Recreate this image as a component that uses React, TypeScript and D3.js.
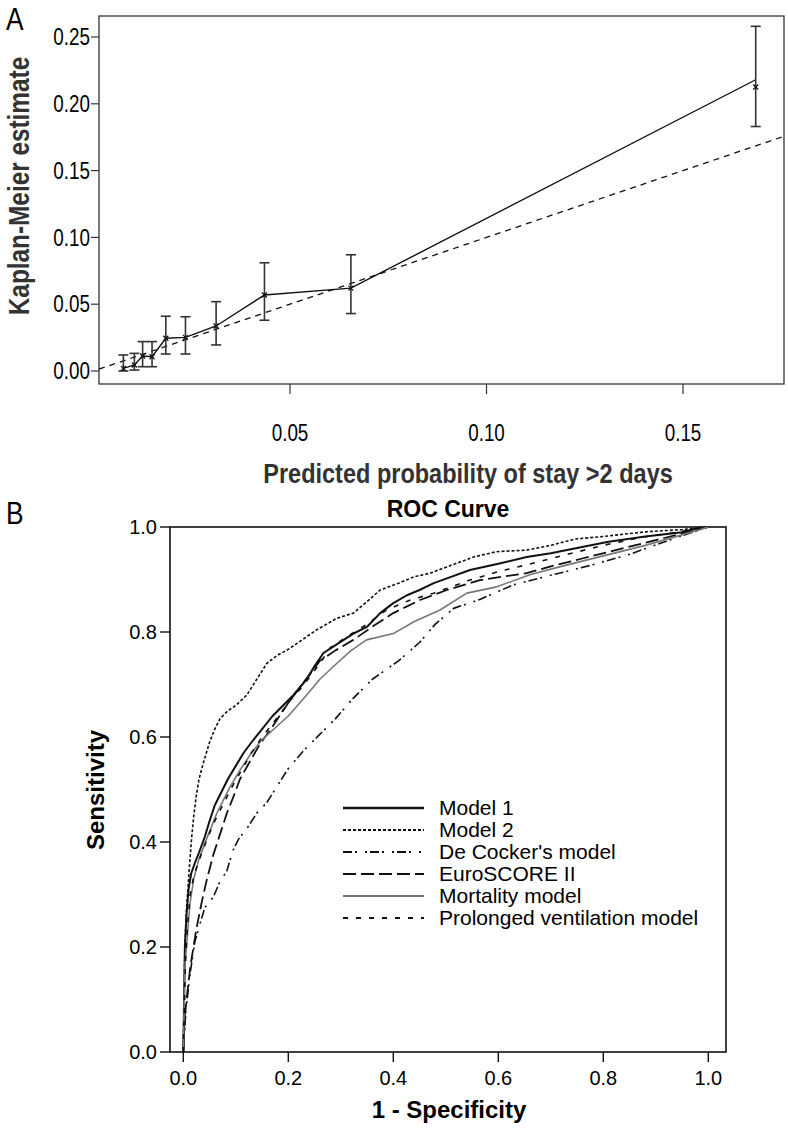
import { useMemo } from "react"
import * as d3 from "d3"

// ---- panel A: calibration ----
const predicted = [0.0076, 0.0104, 0.0125, 0.0149, 0.0184, 0.0234, 0.0312, 0.0435, 0.0655, 0.1685]
const kmEstimate = [0.002, 0.0045, 0.0112, 0.0107, 0.0245, 0.0252, 0.0337, 0.0569, 0.062, 0.218]
const kmMark = [0.002, 0.0045, 0.0112, 0.0107, 0.0245, 0.0252, 0.0337, 0.0569, 0.062, 0.2126]
const kmLower = [0.0, 0.0007, 0.0032, 0.0032, 0.0127, 0.0127, 0.0195, 0.038, 0.043, 0.183]
const kmUpper = [0.012, 0.0132, 0.022, 0.022, 0.041, 0.0406, 0.0519, 0.081, 0.087, 0.258]
const xTicksA = [0.05, 0.1, 0.15]
const yTicksA = [0, 0.05, 0.1, 0.15, 0.2, 0.25]

// ---- panel B: ROC curves [fpr, tpr] ----
const model1 = [[0,0],[0.003,0.2],[0.006,0.26],[0.01,0.31],[0.015,0.34],[0.022,0.36],[0.03,0.38],[0.041,0.41],[0.05,0.44],[0.06,0.47],[0.07,0.49],[0.085,0.52],[0.1,0.545],[0.115,0.57],[0.13,0.59],[0.15,0.615],[0.17,0.64],[0.19,0.66],[0.21,0.68],[0.235,0.71],[0.25,0.735],[0.267,0.76],[0.29,0.775],[0.324,0.797],[0.35,0.81],[0.375,0.836],[0.4,0.855],[0.426,0.87],[0.45,0.88],[0.477,0.893],[0.51,0.905],[0.546,0.918],[0.6,0.93],[0.654,0.943],[0.7,0.95],[0.75,0.96],[0.81,0.972],[0.88,0.982],[0.95,0.99],[0.98,0.998],[1,1]]
const model2 = [[0,0],[0.003,0.2],[0.006,0.27],[0.01,0.33],[0.013,0.37],[0.016,0.41],[0.02,0.45],[0.025,0.49],[0.03,0.52],[0.038,0.55],[0.05,0.59],[0.06,0.615],[0.07,0.635],[0.085,0.65],[0.1,0.66],[0.121,0.68],[0.14,0.71],[0.159,0.74],[0.178,0.755],[0.2,0.767],[0.216,0.778],[0.254,0.804],[0.292,0.826],[0.324,0.836],[0.35,0.858],[0.375,0.88],[0.41,0.893],[0.439,0.905],[0.47,0.912],[0.502,0.924],[0.553,0.943],[0.597,0.953],[0.654,0.956],[0.7,0.965],[0.746,0.977],[0.8,0.982],[0.882,0.991],[0.95,0.995],[1,1]]
const deCocker = [[0,0],[0.005,0.08],[0.013,0.15],[0.022,0.21],[0.032,0.245],[0.041,0.275],[0.057,0.295],[0.07,0.325],[0.083,0.345],[0.095,0.385],[0.105,0.405],[0.124,0.43],[0.14,0.455],[0.159,0.475],[0.181,0.51],[0.2,0.54],[0.23,0.575],[0.26,0.605],[0.29,0.635],[0.32,0.67],[0.36,0.71],[0.41,0.745],[0.45,0.78],[0.48,0.815],[0.515,0.845],[0.565,0.862],[0.629,0.89],[0.7,0.908],[0.78,0.928],[0.85,0.948],[0.92,0.973],[0.97,0.99],[1,1]]
const euroScore = [[0,0],[0.003,0.07],[0.013,0.16],[0.025,0.235],[0.035,0.285],[0.044,0.325],[0.057,0.375],[0.07,0.415],[0.083,0.455],[0.095,0.485],[0.108,0.52],[0.125,0.55],[0.145,0.585],[0.17,0.62],[0.2,0.665],[0.23,0.705],[0.26,0.745],[0.29,0.765],[0.324,0.785],[0.36,0.81],[0.4,0.836],[0.451,0.861],[0.502,0.88],[0.565,0.899],[0.654,0.912],[0.7,0.925],[0.76,0.94],[0.82,0.955],[0.9,0.975],[0.96,0.99],[1,1]]
const mortality = [[0,0],[0.003,0.16],[0.01,0.25],[0.013,0.285],[0.02,0.33],[0.029,0.365],[0.044,0.405],[0.064,0.455],[0.089,0.505],[0.11,0.54],[0.13,0.57],[0.15,0.595],[0.178,0.62],[0.2,0.64],[0.235,0.68],[0.26,0.71],[0.292,0.74],[0.32,0.765],[0.349,0.785],[0.4,0.797],[0.44,0.82],[0.489,0.842],[0.54,0.874],[0.597,0.886],[0.66,0.909],[0.72,0.925],[0.8,0.945],[0.88,0.965],[0.95,0.985],[1,1]]
const prolonged = [[0,0],[0.004,0.17],[0.008,0.24],[0.013,0.3],[0.02,0.335],[0.03,0.365],[0.045,0.405],[0.06,0.44],[0.075,0.47],[0.09,0.5],[0.11,0.535],[0.13,0.57],[0.15,0.6],[0.17,0.625],[0.2,0.665],[0.23,0.7],[0.26,0.74],[0.28,0.77],[0.31,0.79],[0.35,0.815],[0.387,0.842],[0.43,0.86],[0.477,0.874],[0.546,0.899],[0.6,0.915],[0.654,0.928],[0.72,0.945],[0.8,0.965],[0.87,0.98],[0.94,0.99],[1,1]]
const rocTicks = [0, 0.2, 0.4, 0.6, 0.8, 1.0]
const seriesNames = ["Model 1", "Model 2", "De Cocker's model", "EuroSCORE II", "Mortality model", "Prolonged ventilation model"]

const FONT = "'Liberation Sans', Arial, Helvetica, sans-serif"

const series = [
  { name: seriesNames[0], data: model1, stroke: "#111", width: 2, dash: "" },
  { name: seriesNames[1], data: model2, stroke: "#111", width: 1.6, dash: "3 2" },
  { name: seriesNames[2], data: deCocker, stroke: "#111", width: 1.6, dash: "9 3 2 8 2 3" },
  { name: seriesNames[3], data: euroScore, stroke: "#111", width: 1.8, dash: "13 5" },
  { name: seriesNames[4], data: mortality, stroke: "#777", width: 1.6, dash: "" },
  { name: seriesNames[5], data: prolonged, stroke: "#111", width: 1.6, dash: "5 8" },
]

const App = () => {
  // panel A scales
  const xA = useMemo(() => d3.scaleLinear().domain([0, 0.05]).range([93.5, 290]), [])
  const yA = useMemo(() => d3.scaleLinear().domain([0, 0.25]).range([371, 37]), [])
  const boxA = { x0: 99, x1: 784, y0: 16, y1: 384 }

  // panel B scales
  const xB = useMemo(() => d3.scaleLinear().domain([0, 1]).range([183.3, 708.3]), [])
  const yB = useMemo(() => d3.scaleLinear().domain([0, 1]).range([1052, 527]), [])
  const boxB = { x0: 170, x1: 726, y0: 527, y1: 1052 }

  const kmLine = d3.line<number>()
    .x((_, i) => xA(predicted[i]))
    .y(d => yA(d))

  const diagX0 = xA.invert(boxA.x0)
  const diagX1 = xA.invert(boxA.x1)

  const rocLine = d3.line<number[]>()
    .x(d => xB(d[0]))
    .y(d => yB(d[1]))

  return (
    <svg width={788} height={1133} style={{ position: "absolute", left: 0, top: 0, fontFamily: FONT }}>
      <rect width={788} height={1133} fill="#fff" />

      {/* ===== Panel A ===== */}
      <g transform="translate(6, 30) scale(0.85,1)">
        <text fontSize={31}>A</text>
      </g>
      <rect x={boxA.x0} y={boxA.y0} width={boxA.x1 - boxA.x0} height={boxA.y1 - boxA.y0}
        fill="none" stroke="#333" strokeWidth={1.3} />
      {yTicksA.map(v => (
        <g key={v} transform={`translate(${boxA.x0}, ${yA(v)})`}>
          <line x1={-8} x2={0} stroke="#333" strokeWidth={1.2} />
          <text x={-11} dy="0.36em" textAnchor="end" fontSize={23} transform="scale(0.82,1)">{v.toFixed(2)}</text>
        </g>
      ))}
      {xTicksA.map(v => (
        <g key={v} transform={`translate(${xA(v)}, 0)`}>
          <line y1={boxA.y1} y2={boxA.y1 + 10} stroke="#333" strokeWidth={1.2} />
          <g transform={`translate(0, ${boxA.y1 + 57}) scale(0.82,1)`}>
            <text textAnchor="middle" fontSize={23}>{v.toFixed(2)}</text>
          </g>
        </g>
      ))}
      <g transform={`translate(29, 186) rotate(-90) scale(0.84,1)`}>
        <text textAnchor="middle" fontSize={29} fontWeight="bold" fill="#333">Kaplan-Meier  estimate</text>
      </g>
      <g transform={`translate(468, 483) scale(0.84,1)`}>
        <text textAnchor="middle" fontSize={28} fontWeight="bold" fill="#333">Predicted  probability of stay &gt;2 days</text>
      </g>

      {/* reference diagonal */}
      <line x1={xA(diagX0)} y1={yA(diagX0)} x2={xA(diagX1)} y2={yA(diagX1)}
        stroke="#111" strokeWidth={1.3} strokeDasharray="6 5" />
      {/* KM estimate line */}
      <path d={kmLine(kmEstimate) ?? ""} fill="none" stroke="#111" strokeWidth={1.4} />
      {/* error bars */}
      {predicted.map((p, i) => (
        <g key={i} stroke="#333" strokeWidth={1.6}>
          <line x1={xA(p)} x2={xA(p)} y1={yA(kmLower[i])} y2={yA(kmUpper[i])} />
          <line x1={xA(p) - 5} x2={xA(p) + 5} y1={yA(kmLower[i])} y2={yA(kmLower[i])} />
          <line x1={xA(p) - 5} x2={xA(p) + 5} y1={yA(kmUpper[i])} y2={yA(kmUpper[i])} />
        </g>
      ))}
      {predicted.map((p, i) => (
        <g key={"m" + i} stroke="#111" strokeWidth={1.2} transform={`translate(${xA(p)}, ${yA(kmMark[i])})`}>
          <line x1={-2.5} y1={-2.5} x2={2.5} y2={2.5} />
          <line x1={-2.5} y1={2.5} x2={2.5} y2={-2.5} />
        </g>
      ))}

      {/* ===== Panel B ===== */}
      <g transform="translate(6, 524) scale(0.85,1)">
        <text fontSize={31}>B</text>
      </g>
      <text x={(boxB.x0 + boxB.x1) / 2} y={517} textAnchor="middle" fontSize={23} fontWeight="bold">ROC Curve</text>
      <rect x={boxB.x0} y={boxB.y0} width={boxB.x1 - boxB.x0} height={boxB.y1 - boxB.y0}
        fill="none" stroke="#111" strokeWidth={1.6} />
      {rocTicks.map(v => (
        <g key={"y" + v} transform={`translate(0, ${yB(v)})`}>
          <line x1={boxB.x0 - 10} x2={boxB.x0} stroke="#111" strokeWidth={1.4} />
          <text x={boxB.x0 - 13} dy="0.35em" textAnchor="end" fontSize={20}>{v.toFixed(1)}</text>
        </g>
      ))}
      {rocTicks.map(v => (
        <g key={"x" + v} transform={`translate(${xB(v)}, 0)`}>
          <line y1={boxB.y1} y2={boxB.y1 + 10} stroke="#111" strokeWidth={1.4} />
          <text y={boxB.y1 + 33} textAnchor="middle" fontSize={20}>{v.toFixed(1)}</text>
        </g>
      ))}
      <text transform={`translate(104, 790) rotate(-90)`} textAnchor="middle" fontSize={24} fontWeight="bold">Sensitivity</text>
      <text x={449} y={1118} textAnchor="middle" fontSize={24} fontWeight="bold">1 - Specificity</text>

      {series.map(s => (
        <path key={s.name} d={rocLine(s.data) ?? ""} fill="none" stroke={s.stroke}
          strokeWidth={s.width} strokeDasharray={s.dash || undefined} strokeLinejoin="round" />
      ))}

      {/* legend */}
      {series.map((s, i) => (
        <g key={"lg" + i} transform={`translate(0, ${808 + i * 22})`}>
          <line x1={343} x2={424} stroke={s.stroke} strokeWidth={s.width + 0.3} strokeDasharray={s.dash || undefined} />
          <text x={439} dy="0.35em" fontSize={21}>{s.name}</text>
        </g>
      ))}
    </svg>
  )
}

export default App
